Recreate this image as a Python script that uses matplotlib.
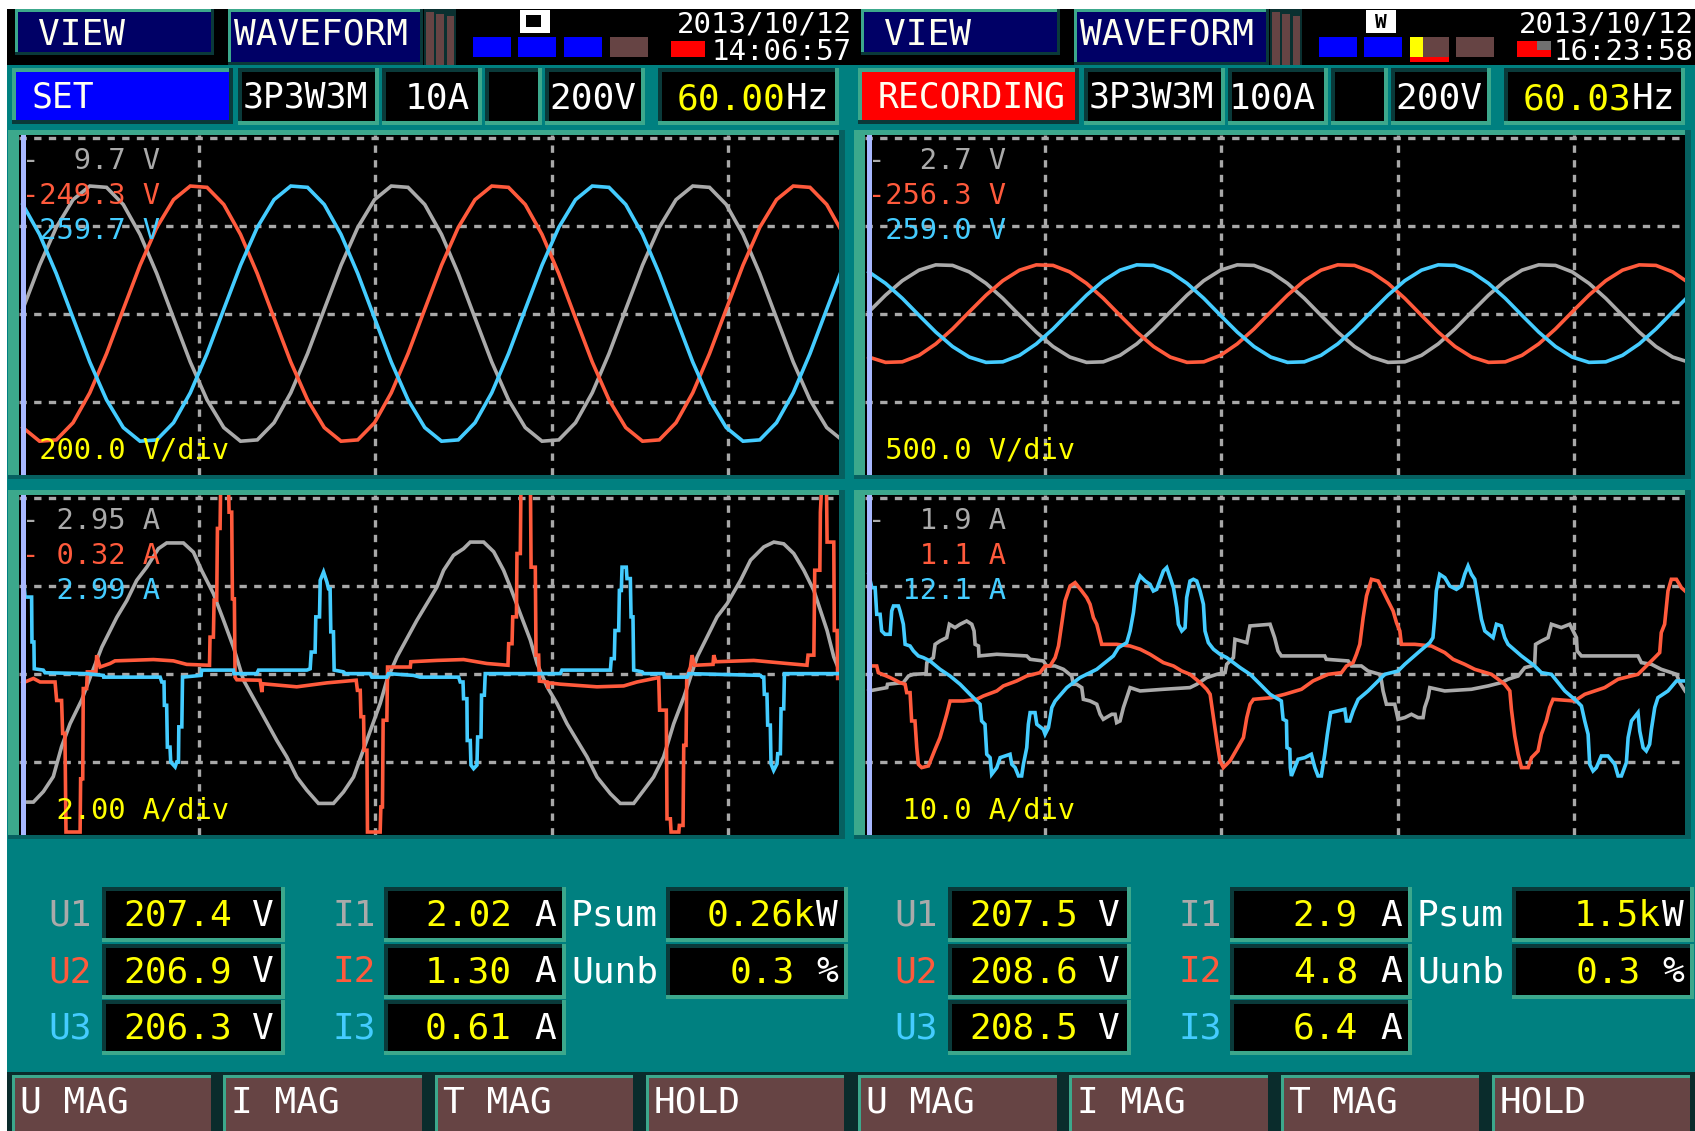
# -*- coding: utf-8 -*-
import numpy as np
import matplotlib
matplotlib.use("Agg")
import matplotlib.pyplot as plt
from matplotlib.patches import Rectangle

# ---------------------------------------------------------------- data
# two screens of the analyser side by side: [left (SET), right (RECORDING)]
modes = ["SET", "RECORDING"]
dates = ["2013/10/12", "2013/10/12"]
times = ["14:06:57", "16:23:58"]
wiring = ["3P3W3M", "3P3W3M"]
i_ranges = ["10A", "100A"]
u_ranges = ["200V", "200V"]
freq_hz = [60.00, 60.03]

u_per_div = [200.0, 500.0]   # V/div
i_per_div = [2.0, 10.0]      # A/div
i_dec = [2, 1]

# cursor values shown in the waveform panels (U1, U2, U3) / (I1, I2, I3)
u_cursor = [[-9.7, -249.3, 259.7], [-2.7, -256.3, 259.0]]
i_cursor = [[-2.95, -0.32, 2.99], [-1.9, 1.1, 12.1]]

# rms readouts
u_rms = [[207.4, 206.9, 206.3], [207.5, 208.6, 208.5]]
i_rms = [[2.02, 1.30, 0.61], [2.9, 4.8, 6.4]]
psum_kw = [0.26, 1.5]
uunb_pct = [0.3, 0.3]
buttons = ["U MAG", "I MAG", "T MAG", "HOLD"]

# voltage waveforms, one sample every 1/18 cycle (0.095 div), in V
v_step = 0.095
u1_left = [10, 110, 196, 259, 290, 287, 248, 180, 91, -10, -110, -196, -259, -290, -287, -248, -180, -91,
           10, 110, 196, 259, 290, 287, 248, 180, 91, -10, -110, -196, -259, -290, -287, -248, -180, -91,
           10, 110, 196, 259, 290, 287, 248, 180, 91, -10, -110, -196, -259, -290]
u2_left = [-259, -290, -287, -248, -180, -91, 10, 110, 196, 259, 290, 287, 248, 180, 91, -10, -110, -196,
           -259, -290, -287, -248, -180, -91, 10, 110, 196, 259, 290, 287, 248, 180, 91, -10, -110, -196,
           -259, -290, -287, -248, -180, -91, 10, 110, 196, 259, 290, 287, 248, 180]
u3_left = [248, 180, 91, -10, -110, -196, -259, -290, -287, -248, -180, -91, 10, 110, 196, 259, 290, 287,
           248, 180, 91, -10, -110, -196, -259, -290, -287, -248, -180, -91, 10, 110, 196, 259, 290, 287,
           248, 180, 91, -10, -110, -196, -259, -290, -287, -248, -180, -91, 10, 110]
u1_right = [10, 105, 187, 247, 277, 274, 237, 172, 87, -10, -105, -187, -247, -277, -274, -237, -172, -87,
            10, 105, 187, 247, 277, 274, 237, 172, 87, -10, -105, -187, -247, -277, -274, -237, -172, -87,
            10, 105, 187, 247, 277, 274, 237, 172, 87, -10, -105, -187, -247, -277]
u2_right = [-247, -277, -274, -237, -172, -87, 10, 105, 187, 247, 277, 274, 237, 172, 87, -10, -105, -187,
            -247, -277, -274, -237, -172, -87, 10, 105, 187, 247, 277, 274, 237, 172, 87, -10, -105, -187,
            -247, -277, -274, -237, -172, -87, 10, 105, 187, 247, 277, 274, 237, 172]
u3_right = [237, 172, 87, -10, -105, -187, -247, -277, -274, -237, -172, -87, 10, 105, 187, 247, 277, 274,
            237, 172, 87, -10, -105, -187, -247, -277, -274, -237, -172, -87, 10, 105, 187, 247, 277, 274,
            237, 172, 87, -10, -105, -187, -247, -277, -274, -237, -172, -87, 10, 105]

# current waveforms, traced as (time in div, current in A) vertices
i1_left = [(0.0, -2.92), (0.06, -2.92), (0.117, -2.68), (0.173, -2.34), (0.22, -1.66), (0.268, -1.14),
           (0.334, -0.60), (0.39, 0.0), (0.448, 0.60), (0.533, 1.28), (0.59, 1.66), (0.646, 2.12),
           (0.703, 2.42), (0.769, 2.84), (0.816, 2.97), (0.911, 2.97), (0.968, 2.76), (1.015, 2.34),
           (1.081, 1.82), (1.138, 1.22), (1.195, 0.60), (1.252, -0.15), (1.346, -0.83), (1.441, -1.52),
           (1.497, -1.89), (1.554, -2.35), (1.611, -2.65), (1.677, -2.95), (1.762, -2.95), (1.819, -2.69),
           (1.876, -2.35), (1.951, -1.52), (2.027, -0.68), (2.065, -0.15), (2.122, 0.38), (2.235, 1.21),
           (2.349, 1.97), (2.387, 2.35), (2.443, 2.69), (2.50, 2.84), (2.538, 2.99), (2.614, 2.99),
           (2.671, 2.77), (2.727, 2.35), (2.765, 1.97), (2.822, 1.36), (2.879, 0.76), (2.917, 0.23),
           (2.974, -0.30), (3.03, -0.68), (3.087, -1.14), (3.144, -1.52), (3.2, -1.89), (3.257, -2.35),
           (3.333, -2.73), (3.389, -2.95), (3.465, -2.95), (3.522, -2.65), (3.578, -2.35), (3.635, -1.89),
           (3.692, -1.14), (3.75, -0.53), (3.787, -0.08), (3.825, 0.38), (3.881, 0.83), (3.938, 1.29),
           (3.995, 1.59), (4.071, 2.12), (4.128, 2.58), (4.203, 2.88), (4.26, 2.99), (4.316, 2.95),
           (4.373, 2.73), (4.43, 2.35), (4.487, 1.89), (4.524, 1.44), (4.562, 0.98), (4.6, 0.38), (4.63, 0.08)]
i2_left = [(0.0, -0.21), (0.06, -0.11), (0.098, -0.19), (0.183, -0.19), (0.192, -0.61), (0.22, -0.61),
           (0.226, -1.36), (0.239, -1.36), (0.245, -3.6), (0.325, -3.6), (0.328, -2.39), (0.34, -2.39),
           (0.343, -0.34), (0.362, -0.34), (0.366, 0.04), (0.415, 0.04), (0.419, 0.42), (0.438, 0.15),
           (0.495, 0.23), (0.523, 0.29), (0.741, 0.32), (0.854, 0.29), (0.93, 0.21), (1.059, 0.19),
           (1.062, 0.83), (1.081, 0.83), (1.085, 1.67), (1.1, 1.67), (1.104, 3.30), (1.119, 3.30),
           (1.123, 4.5), (1.166, 4.5), (1.17, 3.67), (1.185, 3.67), (1.189, 1.70), (1.2, 1.70),
           (1.204, -0.08), (1.214, -0.14), (1.346, -0.15), (1.356, -0.42), (1.36, -0.23), (1.554, -0.30),
           (1.725, -0.21), (1.891, -0.15), (1.898, -0.38), (1.914, -0.38), (1.918, -0.98), (1.933, -0.98),
           (1.936, -1.74), (1.952, -1.74), (1.955, -3.6), (2.027, -3.6), (2.031, -3.03), (2.04, -3.03),
           (2.044, -1.06), (2.065, -1.06), (2.069, 0.15), (2.198, 0.15), (2.201, 0.27), (2.349, 0.30),
           (2.5, 0.32), (2.632, 0.23), (2.752, 0.19), (2.756, 0.68), (2.775, 0.68), (2.779, 1.29),
           (2.8, 1.29), (2.803, 2.73), (2.822, 2.73), (2.826, 4.5), (2.879, 4.5), (2.883, 2.42),
           (2.907, 2.42), (2.911, 0.42), (2.926, 0.42), (2.93, -0.17), (2.974, -0.19), (2.979, -0.34),
           (2.985, -0.21), (3.049, -0.24), (3.257, -0.30), (3.408, -0.28), (3.484, -0.19), (3.607, -0.09),
           (3.612, -0.83), (3.65, -0.83), (3.654, -3.30), (3.673, -3.30), (3.677, -3.6), (3.721, -3.6),
           (3.724, -3.45), (3.745, -3.45), (3.749, -1.63), (3.762, -1.63), (3.766, -0.08), (3.787, 0.15),
           (3.796, 0.42), (3.81, 0.19), (3.915, 0.21), (3.919, 0.42), (3.931, 0.27), (4.146, 0.30),
           (4.335, 0.23), (4.448, 0.19), (4.454, 0.42), (4.487, 0.42), (4.492, 2.35), (4.521, 2.35),
           (4.524, 3.67), (4.534, 4.5), (4.558, 4.5), (4.562, 2.99), (4.6, 2.99), (4.603, 0.98),
           (4.619, 0.98), (4.622, -0.11), (4.637, -0.11)]
i3_left = [(0.0, 2.35), (0.013, 1.74), (0.05, 1.74), (0.052, 0.72), (0.063, 0.72), (0.065, 0.11),
           (0.116, 0.08), (0.126, 0.02), (0.362, 0.0), (0.457, -0.04), (0.459, -0.08), (0.779, -0.08),
           (0.788, -0.19), (0.801, -0.19), (0.803, -0.72), (0.816, -0.72), (0.82, -1.67), (0.835, -1.67),
           (0.839, -2.01), (0.864, -2.12), (0.873, -2.01), (0.883, -2.01), (0.885, -1.21), (0.902, -1.21),
           (0.906, -0.08), (1.011, -0.04), (1.015, 0.08), (1.195, 0.08), (1.198, 0.0), (1.327, 0.0),
           (1.337, 0.08), (1.611, 0.08), (1.63, 0.11), (1.636, 0.49), (1.658, 0.49), (1.662, 1.29),
           (1.683, 1.29), (1.687, 2.12), (1.706, 2.31), (1.725, 2.08), (1.734, 1.93), (1.743, 1.93),
           (1.747, 0.95), (1.762, 0.95), (1.766, 0.08), (1.819, 0.04), (1.829, 0.0), (1.97, 0.0),
           (1.98, -0.08), (2.065, -0.08), (2.074, 0.0), (2.216, -0.04), (2.254, -0.08), (2.472, -0.08),
           (2.481, -0.19), (2.497, -0.19), (2.5, -0.57), (2.519, -0.57), (2.521, -1.52), (2.538, -1.52),
           (2.542, -2.08), (2.557, -2.16), (2.576, -2.08), (2.58, -1.44), (2.599, -1.44), (2.602, -0.49),
           (2.618, -0.49), (2.623, 0.0), (3.049, 0.0), (3.058, 0.08), (3.333, 0.08), (3.338, 0.34),
           (3.355, 0.34), (3.359, 0.98), (3.38, 0.98), (3.384, 1.89), (3.395, 1.89), (3.399, 2.42),
           (3.423, 2.42), (3.427, 2.16), (3.446, 2.16), (3.45, 1.29), (3.461, 1.29), (3.465, 0.08),
           (3.513, 0.04), (3.522, 0.0), (3.635, 0.0), (3.639, -0.08), (3.768, -0.08), (3.777, 0.0),
           (4.184, -0.04), (4.193, -0.08), (4.203, -0.08), (4.206, -0.47), (4.221, -0.47), (4.225, -1.17),
           (4.24, -1.17), (4.244, -2.05), (4.259, -2.2), (4.278, -2.05), (4.282, -1.82), (4.297, -1.82),
           (4.301, -0.8), (4.316, -0.8), (4.32, 0.0), (4.638, 0.0)]
i1_right = [(0.0, -1.97), (0.102, -1.59), (0.106, -1.21), (0.196, -1.02), (0.225, -0.27), (0.253, -0.08),
            (0.325, 0.0), (0.329, 1.25), (0.366, 1.82), (0.376, 3.33), (0.404, 3.71), (0.442, 4.09),
            (0.457, 5.61), (0.489, 5.23), (0.518, 5.61), (0.555, 5.98), (0.584, 5.61), (0.597, 4.85),
            (0.603, 3.33), (0.622, 3.14), (0.625, 2.01), (0.726, 2.2), (0.896, 2.01), (0.915, 1.63),
            (0.99, 1.44), (1.009, 0.87), (1.056, 0.87), (1.104, 0.49), (1.151, -0.27), (1.16, -1.21),
            (1.179, -1.21), (1.208, -1.59), (1.217, -2.92), (1.255, -3.11), (1.293, -3.48), (1.312, -4.62),
            (1.33, -5.19), (1.378, -4.62), (1.397, -4.62), (1.406, -5.57), (1.425, -5.38), (1.444, -3.86),
            (1.463, -2.73), (1.482, -1.59), (1.539, -1.97), (1.671, -1.78), (1.822, -1.59), (1.86, -1.21),
            (1.917, -0.45), (1.974, -0.08), (2.021, 0.11), (2.03, 1.06), (2.068, 1.82), (2.077, 3.9),
            (2.144, 3.52), (2.162, 5.42), (2.276, 5.61), (2.302, 4.09), (2.321, 2.58), (2.34, 2.01),
            (2.586, 2.01), (2.595, 1.63), (2.719, 1.44), (2.738, 0.87), (2.794, 0.87), (2.832, 0.3),
            (2.898, -0.08), (2.908, -0.83), (2.917, -1.97), (2.936, -3.48), (2.983, -3.48), (3.002, -5.19),
            (3.04, -5.0), (3.078, -4.62), (3.115, -5.0), (3.144, -5.0), (3.153, -3.86), (3.172, -2.73),
            (3.182, -1.59), (3.267, -1.97), (3.418, -1.78), (3.513, -1.4), (3.588, -1.02), (3.626, -0.64),
            (3.683, -0.27), (3.721, 0.68), (3.759, 0.87), (3.777, 1.06), (3.782, 3.33), (3.815, 3.71),
            (3.853, 4.09), (3.872, 5.61), (3.928, 5.23), (3.976, 5.61), (3.995, 4.85), (4.014, 4.09),
            (4.018, 2.58), (4.042, 2.01), (4.363, 2.01), (4.382, 1.25), (4.439, 1.06), (4.495, 0.49),
            (4.553, 0.11), (4.581, -0.08), (4.6, -1.02), (4.63, -1.97)]
i2_right = [(0.0, 0.87), (0.045, 0.87), (0.054, 0.11), (0.121, -0.45), (0.177, -1.02), (0.206, -1.21),
            (0.215, -2.16), (0.234, -2.16), (0.243, -5.38), (0.262, -5.38), (0.272, -8.41), (0.281, -10.3),
            (0.3, -10.68), (0.338, -10.49), (0.357, -9.55), (0.376, -8.6), (0.404, -7.27), (0.423, -5.95),
            (0.442, -4.62), (0.461, -3.11), (0.537, -3.11), (0.612, -2.92), (0.65, -2.54), (0.726, -1.97),
            (0.763, -1.4), (0.839, -0.83), (0.896, -0.27), (0.971, 0.11), (1.0, 0.87), (1.028, 0.87),
            (1.057, 1.82), (1.076, 3.14), (1.094, 5.61), (1.113, 8.26), (1.142, 9.96), (1.17, 10.34),
            (1.208, 9.39), (1.236, 8.64), (1.255, 7.88), (1.274, 6.36), (1.293, 5.61), (1.312, 4.09),
            (1.321, 3.33), (1.406, 3.33), (1.482, 3.14), (1.539, 2.77), (1.595, 2.2), (1.671, 1.25),
            (1.728, 0.87), (1.775, 0.3), (1.822, -0.08), (1.879, -1.02), (1.917, -1.78), (1.936, -2.35),
            (1.955, -5.0), (1.974, -7.65), (1.992, -9.92), (2.011, -10.68), (2.049, -9.92), (2.087, -8.6),
            (2.125, -7.27), (2.144, -5.0), (2.163, -3.48), (2.182, -2.92), (2.284, -2.73), (2.359, -2.35),
            (2.454, -1.78), (2.52, -0.83), (2.605, -0.08), (2.681, 0.11), (2.709, 0.87), (2.747, 1.25),
            (2.766, 2.2), (2.785, 3.33), (2.804, 6.36), (2.823, 8.83), (2.851, 10.72), (2.889, 10.53),
            (2.917, 9.39), (2.945, 8.26), (2.974, 7.12), (2.993, 5.8), (3.012, 4.85), (3.021, 3.33),
            (3.097, 3.33), (3.191, 3.14), (3.267, 2.39), (3.314, 1.63), (3.38, 1.06), (3.437, 0.49),
            (3.532, -0.08), (3.57, -0.64), (3.607, -1.21), (3.636, -1.97), (3.645, -4.05), (3.664, -7.08),
            (3.683, -9.17), (3.702, -10.68), (3.74, -10.68), (3.759, -9.55), (3.796, -8.79), (3.815, -6.89),
            (3.843, -5.38), (3.862, -3.86), (3.881, -2.92), (4.004, -3.11), (4.061, -2.35), (4.174, -1.59),
            (4.25, -0.64), (4.363, -0.08), (4.401, 0.68), (4.458, 1.82), (4.486, 2.39), (4.495, 4.66),
            (4.514, 5.61), (4.533, 9.39), (4.552, 10.72), (4.581, 10.72), (4.609, 9.77), (4.63, 9.39)]
i3_right = [(0.0, 11.29), (0.017, 9.77), (0.036, 9.77), (0.045, 6.74), (0.064, 6.74), (0.073, 4.85),
            (0.092, 4.47), (0.121, 4.47), (0.13, 7.12), (0.14, 7.69), (0.168, 7.69), (0.177, 7.12),
            (0.196, 5.61), (0.206, 3.33), (0.234, 3.14), (0.253, 2.58), (0.281, 2.01), (0.309, 1.82),
            (0.347, 1.44), (0.404, 0.49), (0.461, -0.27), (0.518, -1.21), (0.574, -2.35), (0.631, -3.48),
            (0.64, -5.38), (0.659, -5.76), (0.669, -9.17), (0.688, -9.55), (0.697, -11.44), (0.726, -10.68),
            (0.745, -9.55), (0.801, -9.17), (0.811, -10.3), (0.83, -10.68), (0.849, -11.63), (0.867, -11.63),
            (0.877, -10.3), (0.896, -8.41), (0.905, -5.76), (0.915, -4.43), (0.943, -4.43), (0.953, -5.76),
            (0.99, -6.33), (1.0, -6.89), (1.019, -6.14), (1.038, -3.86), (1.057, -3.11), (1.123, -1.59),
            (1.198, -0.45), (1.293, 0.49), (1.387, 2.01), (1.416, 2.95), (1.463, 3.52), (1.482, 4.85),
            (1.501, 6.93), (1.52, 10.15), (1.539, 11.1), (1.567, 10.53), (1.595, 10.15), (1.614, 9.39),
            (1.633, 9.58), (1.671, 11.67), (1.69, 12.05), (1.709, 10.91), (1.728, 9.77), (1.747, 7.5),
            (1.756, 5.61), (1.775, 4.85), (1.794, 5.23), (1.803, 8.64), (1.822, 10.53), (1.841, 10.72),
            (1.86, 10.53), (1.879, 9.39), (1.898, 7.88), (1.907, 4.85), (1.926, 3.52), (1.955, 2.77),
            (1.992, 2.2), (2.03, 1.82), (2.106, 0.68), (2.163, -0.08), (2.22, -1.21), (2.276, -2.35),
            (2.34, -3.11), (2.35, -5.19), (2.369, -5.38), (2.372, -8.41), (2.388, -8.6), (2.391, -10.68),
            (2.397, -11.63), (2.416, -10.68), (2.435, -9.73), (2.473, -9.55), (2.51, -9.17), (2.53, -10.68),
            (2.548, -11.63), (2.567, -11.63), (2.586, -9.17), (2.601, -6.89), (2.62, -4.43), (2.7, -4.05),
            (2.709, -5.38), (2.728, -5.38), (2.747, -4.24), (2.776, -2.92), (2.832, -1.97), (2.889, -0.83),
            (2.927, -0.08), (3.002, 0.3), (3.04, 1.06), (3.116, 2.39), (3.182, 3.52), (3.2, 4.09),
            (3.21, 6.36), (3.219, 9.39), (3.238, 11.29), (3.267, 10.91), (3.295, 9.96), (3.333, 9.58),
            (3.361, 9.96), (3.38, 11.29), (3.399, 12.23), (3.418, 11.29), (3.437, 10.72), (3.456, 8.45),
            (3.475, 6.17), (3.494, 4.85), (3.541, 4.09), (3.56, 5.61), (3.588, 5.42), (3.607, 4.09),
            (3.626, 3.33), (3.702, 2.01), (3.777, 0.87), (3.815, 0.11), (3.872, -0.08), (3.948, -1.97),
            (4.014, -3.11), (4.042, -3.67), (4.061, -5.38), (4.08, -6.89), (4.089, -10.3), (4.108, -11.06),
            (4.127, -10.68), (4.155, -9.36), (4.193, -9.36), (4.231, -10.3), (4.25, -11.63), (4.269, -11.63),
            (4.297, -10.11), (4.307, -7.27), (4.326, -5.38), (4.363, -4.43), (4.373, -6.52), (4.392, -8.41),
            (4.41, -8.79), (4.429, -8.03), (4.439, -6.33), (4.458, -3.86), (4.476, -2.73), (4.533, -1.97),
            (4.581, -0.83), (4.63, -0.83)]

# ---------------------------------------------------------------- look
W, H = 1695, 1131
DX = 846                 # right screen is the left one shifted by this
PX = 100 / 72            # pixels per point
MONO = "DejaVu Sans Mono"

TEAL = "#008080"
LIGHT = "#3ca88c"
DARK = "#0a3a3a"
FRAME_DARK = "#066060"
NAVY = "#000066"
CREAM = "#fffff0"
BROWN = "#664444"
YELLOW = "#ffff00"
GRID = "#a8a8a8"
CURSOR = "#a8b8ff"
PHASE = ["#aaaaaa", "#ff5a3c", "#44ccff"]

fig = plt.figure(figsize=(W / 100, H / 100), dpi=100, facecolor="white")
ax = fig.add_axes([0, 0, 1, 1])
ax.set_xlim(0, W)
ax.set_ylim(H, 0)
ax.axis("off")


def rect(x, y, w, h, fc):
    ax.add_patch(Rectangle((x, y), w, h, facecolor=fc, edgecolor="none"))


def bevel(x, y, w, h, face, tl, br, bw=4):
    rect(x, y, w, h, face)
    rect(x, y, w, bw, tl)
    rect(x, y, bw, h, tl)
    rect(x, y + h - bw, w, bw, br)
    rect(x + w - bw, y, bw, h, br)


def text(x, yc, s, color, size=26, ha="left", target=None):
    # yc is the vertical middle of the capitals
    base = yc + 0.729 * size * PX / 2
    (target or ax).text(x, base, s, color=color, fontsize=size, family=MONO,
                        ha=ha, va="baseline", transform=ax.transData, zorder=10)


def pitch(size):
    return 0.602 * size * PX


def cursor_label(v, dec, unit):
    return ("-" if v < 0 else " ") + f"{abs(v):5.{dec}f} {unit}"


# screen backgrounds
rect(6.5, 9, W, 56, "black")
rect(6.5, 65, W, H - 65, TEAL)
rect(6.5, 1072, W, 60, "#0a2c2c")

X0_PX = 22.8             # pixel of t = 0 inside a panel
DIV_PX = 176.3           # pixels per horizontal division
XL = (-(X0_PX - 19) / DIV_PX, (839 - X0_PX) / DIV_PX)
YL = (-1.834, 2.03)
DASH = (0, (2.2, 2.2))


def panel(ox, top, scale, traces, labels, div_label):
    rect(ox + 8, top, 837, 349, LIGHT)
    rect(ox + 8, top + 345, 837, 4, FRAME_DARK)
    rect(ox + 839, top, 6, 349, FRAME_DARK)
    axw = fig.add_axes([(ox + 19) / W, 1 - (top + 345) / H, 820 / W, 340 / H])
    axw.set_facecolor("black")
    axw.set_xlim(*XL)
    axw.set_ylim(YL[0] * scale, YL[1] * scale)
    axw.set_xticks([])
    axw.set_yticks([])
    for sp in axw.spines.values():
        sp.set_visible(False)
    for v in [1, 2, 3, 4]:
        axw.axvline(v, color=GRID, lw=2.4, ls=DASH, zorder=1)
    for h in [-1, 0, 1, 2]:
        axw.axhline(h * scale, color=GRID, lw=2.4, ls=DASH, zorder=1)
    for (x, y), c in zip(traces, PHASE):
        axw.plot(x, y, color=c, lw=2.6, solid_joinstyle="miter", zorder=3)
    axw.axvline(0, color=CURSOR, lw=3.6, zorder=4)
    for k, (s, c) in enumerate(zip(labels, PHASE)):
        text(ox + 21.5, top + 28.5 + 35.2 * k, s, c, 20.7, target=axw)
    text(ox + 21.5, top + 318, div_label, YELLOW, 20.7, target=axw)


u_sets = [(u1_left, u2_left, u3_left), (u1_right, u2_right, u3_right)]
i_sets = [(i1_left, i2_left, i3_left), (i1_right, i2_right, i3_right)]

for s in range(2):
    ox = s * DX

    # ---- header row
    bevel(ox + 14.6, 9, 199.4, 46, NAVY, LIGHT, DARK, bw=3)
    text(ox + 38, 31.5, "VIEW", CREAM)
    bevel(ox + 228, 9, 195, 56, NAVY, LIGHT, DARK, bw=3)
    text(ox + 234, 31.5, "WAVEFORM", CREAM)
    rect(ox + 424, 9, 32, 56, "#0a3030")
    for k in range(3):
        rect(ox + 426 + k * 10.3, 12 + 2 * k, 7.5, 53 - 2 * k, BROWN)
    # status icon
    rect(ox + 520, 10, 30, 23, "white")
    if s == 0:
        rect(ox + 526, 15, 15, 12, "black")
    else:
        ax.text(ox + 535, 22, "W", color="black", fontsize=14, family=MONO,
                ha="center", va="center", fontweight="bold")
    # status squares
    sq_x = [473, 518, 564, 610]
    for k, x in enumerate(sq_x):
        if s == 1 and k == 2:
            rect(ox + x, 37, 13, 20, YELLOW)
            rect(ox + x + 13, 37, 26, 20, BROWN)
            rect(ox + x, 57, 39, 5, "#ff0000")
        else:
            rect(ox + x, 37, 38, 20, "#0000ff" if k < 3 else BROWN)
    rect(ox + 671, 41, 34, 16, "#ff0000")
    if s == 1:
        rect(ox + 691, 41, 14, 9, "#707070")
    text(min(ox + 852, W - 1), 21.5, dates[s], "white", 21, ha="right")
    text(min(ox + 852, W - 1), 49.5, times[s], "white", 21, ha="right")

    # ---- settings row
    bevel(ox + 12, 68, 221, 56, "#0000ff" if s == 0 else "#ff0000", LIGHT, DARK, bw=4)
    text(ox + 32, 95, modes[s], CREAM, 25)
    for x, w in [(238, 141), (382, 100), (485, 57), (545, 100), (658, 181)]:
        bevel(ox + x, 68, w, 57, "black", DARK, LIGHT, bw=4)
    text(ox + 243, 95, wiring[s], "white", 25)
    text(ox + 470, 95, i_ranges[s], "white", ha="right")
    text(ox + 549, 95, u_ranges[s], "white")
    fs = f"{freq_hz[s]:.2f}"
    hz_x = ox + 829 - 2 * pitch(26)
    text(hz_x, 96, fs, YELLOW, ha="right")
    text(hz_x, 96, "Hz", "white")

    # ---- waveform panels
    u_tr = [(np.arange(len(u)) * v_step, u) for u in u_sets[s]]
    i_tr = [tuple(np.array(t).T) for t in i_sets[s]]
    panel(ox, 130, u_per_div[s], u_tr,
          [cursor_label(v, 1, "V") for v in u_cursor[s]],
          f"{u_per_div[s]:6.1f} V/div")
    panel(ox, 490, i_per_div[s], i_tr,
          [cursor_label(v, i_dec[s], "A") for v in i_cursor[s]],
          f"{i_per_div[s]:6.{i_dec[s]}f} A/div")

    # ---- rms readouts
    for r in range(3):
        y = 887 + r * 56.5
        yc = 912.5 + r * 56.5
        bevel(ox + 102, y, 182.5, 55, "black", DARK, LIGHT, bw=4)
        text(ox + 92, yc, f"U{r + 1}", PHASE[r], ha="right")
        text(ox + 232, yc, f"{u_rms[s][r]:.1f}", YELLOW, ha="right")
        text(ox + 263, yc, "V", "white", ha="center")
        bevel(ox + 384, y, 182, 55, "black", DARK, LIGHT, bw=4)
        text(ox + 376, yc, f"I{r + 1}", PHASE[r], ha="right")
        text(ox + 512, yc, f"{i_rms[s][r]:.{i_dec[s]}f}", YELLOW, ha="right")
        text(ox + 545, yc, "A", "white", ha="center")
    bevel(ox + 666, 887, 182, 55, "black", DARK, LIGHT, bw=4)
    bevel(ox + 666, 943.5, 182, 55, "black", DARK, LIGHT, bw=4)
    text(ox + 571, 912.5, "Psum", "white")
    text(ox + 571, 969, "Uunb", "white")
    text(ox + 815, 912.5, f"{psum_kw[s]:.{i_dec[s]}f}k", YELLOW, ha="right")
    text(ox + 827, 912.5, "W", "white", ha="center")
    text(ox + 795, 969, f"{uunb_pct[s]:.1f}", YELLOW, ha="right")
    text(ox + 827, 969, "%", "white", ha="center")

    # ---- soft keys
    for b, label in enumerate(buttons):
        bx = ox + 12 + b * 211.3
        rect(bx, 1075, 198.5, 56, BROWN)
        rect(bx, 1075, 198.5, 3, LIGHT)
        rect(bx, 1075, 3, 56, LIGHT)
        text(bx + 8, 1099, label, "white")

rect(0, 0, 6.5, H, "white")
rect(0, 0, W, 9, "white")

fig.savefig("out.png", dpi=100, facecolor="white")
